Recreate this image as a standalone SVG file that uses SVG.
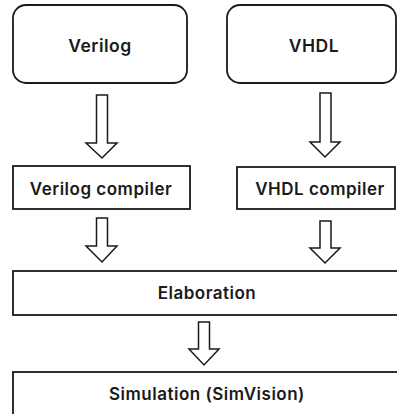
<svg xmlns="http://www.w3.org/2000/svg" width="397" height="414" viewBox="0 0 397 414">
<style>
.box{fill:#fff;stroke:#1a1a1a;stroke-width:1.8}
.arr{fill:#fff;stroke:#1a1a1a;stroke-width:1.5;stroke-linejoin:miter}
text{font-family:Inter,"Liberation Sans",sans-serif;font-weight:600;fill:#1a1a1a;text-anchor:middle;letter-spacing:0.5px}
.big{font-size:17.5px}
.mid{font-size:17px}
</style>
<rect width="397" height="414" fill="#fff"/>
<g id="verilog"><rect class="box" x="13" y="5" width="174" height="78" rx="13"/><text class="big" x="100" y="52">Verilog</text></g>
<g id="vhdl"><rect class="box" x="227" y="5" width="169" height="78" rx="13"/><text class="big" x="314" y="52">VHDL</text></g>
<g id="verilog-compiler"><rect class="box" x="13" y="166" width="177" height="43"/><text class="mid" x="101" y="195">Verilog compiler</text></g>
<g id="vhdl-compiler"><rect class="box" x="237" y="167" width="158" height="42"/><text class="mid" x="320" y="195">VHDL compiler</text></g>
<g id="elaboration"><rect class="box" x="13" y="271" width="390" height="44"/><text class="mid" x="207" y="299">Elaboration</text></g>
<g id="simulation"><rect class="box" x="13" y="372" width="390" height="50"/><text class="mid" x="207" y="400">Simulation (SimVision)</text></g>
<g id="connectors">
<polygon class="arr" points="96.5,95 107.5,95 107.5,143 117,143 102,158 86,143 96.5,143"/>
<polygon class="arr" points="320,93 331,93 331,142 340,142 325,157 310,142 320,142"/>
<polygon class="arr" points="96.5,218 107.5,218 107.5,246 117,246 102,262 86,246 96.5,246"/>
<polygon class="arr" points="320,221 331,221 331,248 340,248 325,263 310,248 320,248"/>
<polygon class="arr" points="198.5,322 209.5,322 209.5,349 219,349 204,365 189,349 198.5,349"/>
</g>
</svg>
